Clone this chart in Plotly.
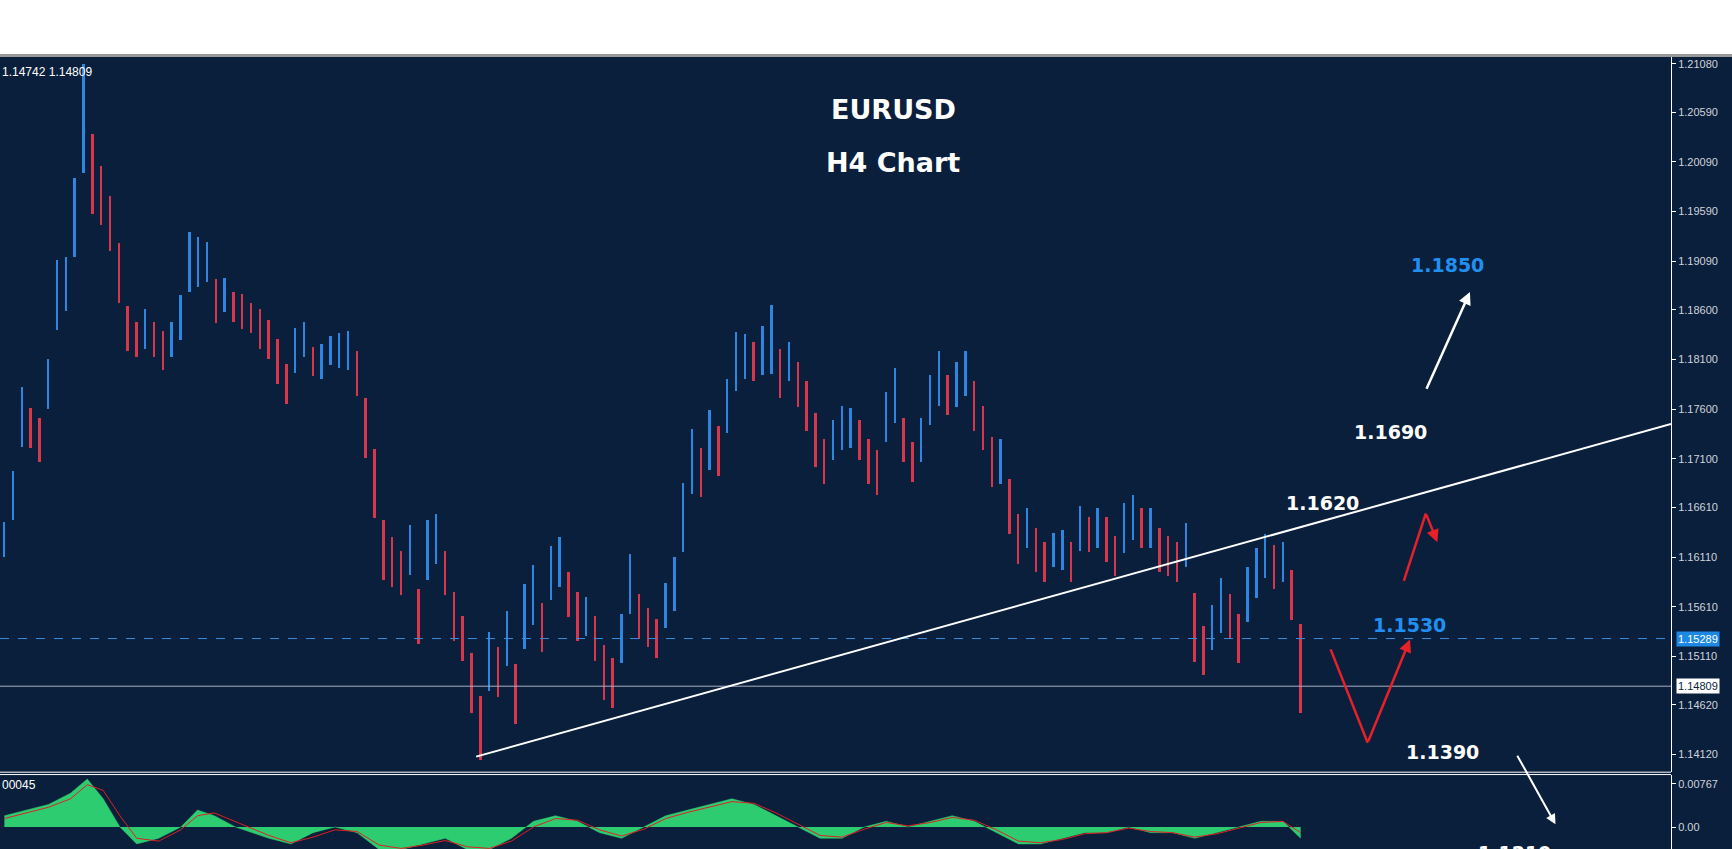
import plotly.graph_objects as go

# ---- data (price bars: mid price and high-low span per H4 bar) ----
bar_mid = [1.1629,1.1673,1.1752,1.1741,1.1729,1.1785,1.1875,1.1886,1.1953,1.2053,
           1.1997,1.1975,1.1947,1.1897,1.1841,1.1830,1.1841,1.1830,1.1819,1.1830,
           1.1852,1.1908,1.1908,1.1908,1.1869,1.1875,1.1863,1.1858,1.1852,1.1841,
           1.1830,1.1808,1.1785,1.1819,1.1830,1.1808,1.1808,1.1819,1.1819,1.1819,
           1.1796,1.1741,1.1685,1.1618,1.1606,1.1595,1.1618,1.1551,1.1618,1.1629,
           1.1595,1.1551,1.1529,1.1484,1.1439,1.1506,1.1495,1.1529,1.1473,1.1551,
           1.1573,1.1540,1.1595,1.1606,1.1573,1.1551,1.1551,1.1529,1.1495,1.1484,
           1.1529,1.1584,1.1551,1.1540,1.1529,1.1562,1.1584,1.1651,1.1707,1.1696,
           1.1729,1.1718,1.1763,1.1808,1.1813,1.1808,1.1819,1.1830,1.1796,1.1808,
           1.1785,1.1763,1.1729,1.1707,1.1729,1.1741,1.1741,1.1729,1.1707,1.1696,
           1.1752,1.1774,1.1729,1.1707,1.1729,1.1769,1.1791,1.1774,1.1785,1.1796,
           1.1763,1.1741,1.1707,1.1707,1.1662,1.1629,1.1640,1.1618,1.1606,1.1618,
           1.1618,1.1606,1.1640,1.1634,1.1640,1.1629,1.1612,1.1640,1.1651,1.1640,
           1.1640,1.1618,1.1612,1.1606,1.1623,1.1540,1.1517,1.1540,1.1562,1.1551,
           1.1529,1.1573,1.1595,1.1612,1.1601,1.1606,1.1573,1.1499]
bar_span = [0.0035,0.0050,0.0060,0.0040,0.0045,0.0050,0.0070,0.0055,0.0080,0.0110,
            0.0080,0.0060,0.0055,0.0060,0.0045,0.0035,0.0040,0.0035,0.0040,0.0035,
            0.0045,0.0060,0.0050,0.0040,0.0045,0.0035,0.0030,0.0035,0.0030,0.0040,
            0.0040,0.0045,0.0040,0.0045,0.0035,0.0030,0.0035,0.0030,0.0035,0.0040,
            0.0045,0.0060,0.0070,0.0060,0.0050,0.0045,0.0050,0.0055,0.0060,0.0050,
            0.0045,0.0050,0.0045,0.0060,0.0065,0.0060,0.0050,0.0055,0.0060,0.0065,
            0.0060,0.0050,0.0055,0.0050,0.0045,0.0050,0.0040,0.0045,0.0055,0.0050,
            0.0050,0.0060,0.0045,0.0040,0.0040,0.0045,0.0055,0.0070,0.0065,0.0050,
            0.0060,0.0050,0.0055,0.0060,0.0045,0.0040,0.0050,0.0070,0.0050,0.0040,
            0.0045,0.0050,0.0055,0.0045,0.0040,0.0045,0.0040,0.0040,0.0045,0.0045,
            0.0050,0.0055,0.0045,0.0040,0.0045,0.0050,0.0055,0.0040,0.0045,0.0045,
            0.0050,0.0045,0.0050,0.0045,0.0055,0.0050,0.0040,0.0045,0.0040,0.0035,
            0.0040,0.0040,0.0045,0.0035,0.0040,0.0045,0.0040,0.0050,0.0045,0.0040,
            0.0040,0.0045,0.0040,0.0040,0.0045,0.0070,0.0050,0.0045,0.0055,0.0045,
            0.0050,0.0055,0.0050,0.0045,0.0045,0.0040,0.0050,0.0090]

# oscillator (histogram & signal) sampled by bar index
osc_x = [0,2.5,5,7.5,9.4,11.2,13.1,15,17.5,20,21.9,23.8,26.2,30,32.5,35,37.5,40,42.5,45,
         47.5,50,52.5,55,57.5,60,62.5,65,67.5,70,72.5,75,77.5,80,82.5,85,87.5,90,92.5,95,
         97.5,100,102.5,105,107.5,110,112.5,115,117.5,120,122.5,125,127.5,130,132.5,135,
         137.5,140,142.5,145,147]
osc_hist = [0.002,0.003,0.004,0.006,0.0085,0.005,0.0,-0.003,-0.002,0.0,0.003,0.002,0.0,-0.002,
            -0.003,-0.001,0.0,-0.001,-0.004,-0.004,-0.003,-0.002,-0.004,-0.004,-0.002,0.001,
            0.002,0.001,-0.001,-0.002,0.0,0.002,0.003,0.004,0.005,0.004,0.002,0.0,-0.002,-0.002,
            0.0,0.001,0.0,0.001,0.002,0.001,-0.001,-0.003,-0.003,-0.002,-0.001,-0.001,0.0,
            -0.001,-0.001,-0.002,-0.001,0.0,0.001,0.001,-0.002]
osc_signal = [0.0015,0.0025,0.0035,0.005,0.0075,0.0065,0.002,-0.002,-0.0025,-0.0005,0.002,0.0025,
              0.001,-0.0015,-0.0028,-0.0018,-0.0005,-0.0008,-0.0032,-0.0038,-0.0032,-0.0024,
              -0.0035,-0.0038,-0.0025,0.0,0.0015,0.0012,-0.0005,-0.0016,-0.0004,0.0015,0.0026,
              0.0036,0.0045,0.0042,0.0025,0.0005,-0.0015,-0.0018,-0.0004,0.0008,0.0002,0.0008,
              0.0017,0.0012,-0.0005,-0.0025,-0.0028,-0.0022,-0.0012,-0.001,-0.0002,-0.0008,
              -0.001,-0.0018,-0.0012,-0.0002,0.0008,0.001,-0.001]

price_ticks = [1.21080,1.20590,1.20090,1.19590,1.19090,1.18600,1.18100,1.17600,1.17100,
               1.16610,1.16110,1.15610,1.15110,1.14620,1.14120]
ask_level = 1.15289
bid_level = 1.14809
levels = {"1.1850": 1.1905, "1.1690": 1.1737, "1.1620": 1.1665, "1.1530": 1.1543,
          "1.1390": 1.1415}
level_x = {"1.1850": 163.6, "1.1690": 157.2, "1.1620": 149.5, "1.1530": 159.4, "1.1390": 163.1}
level_col = {"1.1850": "#2090f0", "1.1690": "white", "1.1620": "white", "1.1530": "#2090f0",
             "1.1390": "white"}

BG = "#0a1f3b"
n = len(bar_mid)
xs = list(range(n))
lows = [m - s / 2 for m, s in zip(bar_mid, bar_span)]
cols = ["#2f86e0" if i == 0 or bar_mid[i] >= bar_mid[i - 1] else "#d9364c" for i in range(n)]

fig = go.Figure()
fig.add_trace(go.Bar(x=xs, y=bar_span, base=lows, width=0.22, marker=dict(color=cols, line_width=0),
                     yaxis="y", showlegend=False))
fig.add_trace(go.Scatter(x=osc_x, y=osc_hist, fill="tozeroy", mode="lines", line=dict(color="#2ecc71", width=0.5),
                         fillcolor="#2ecc71", yaxis="y2", showlegend=False))
fig.add_trace(go.Scatter(x=osc_x, y=osc_signal, mode="lines", line=dict(color="#e02020", width=1),
                         yaxis="y2", showlegend=False))

XMAX = 189
TF = dict(size=11, color="#d0d4dc", family="Liberation Sans")
fig.update_layout(
    width=1732, height=849, paper_bgcolor=BG, plot_bgcolor=BG,
    margin=dict(l=0, r=61, t=57, b=0), bargap=0,
    font=dict(family="DejaVu Sans", color="#d0d4dc", size=12),
    xaxis=dict(range=[-0.5, XMAX], showgrid=False, showticklabels=False, zeroline=False, fixedrange=True),
    yaxis=dict(domain=[0.097, 1], range=[1.13943, 1.21147], side="right", tickvals=price_ticks,
               ticktext=[f"{v:.5f}" for v in price_ticks], showgrid=False, zeroline=False,
               ticks="outside", ticklen=4, tickcolor="white", showline=True, linecolor="white",
               tickfont=TF, automargin=False),
    yaxis2=dict(domain=[0, 0.094], range=[-0.0039, 0.0093], side="right", tickvals=[0.00767, 0],
                ticktext=["0.00767", "0.00"], showgrid=False, zeroline=False, ticks="outside",
                ticklen=4, tickcolor="white", showline=True, linecolor="white",
                tickfont=TF, automargin=False),
)

shapes = [
    dict(type="rect", xref="paper", yref="paper", x0=-0.01, x1=1.1, y0=1.0, y1=1.08, fillcolor="white", line_width=0),
    dict(type="line", xref="paper", yref="paper", x0=0, x1=1.04, y0=1.002, y1=1.002, line=dict(color="#999", width=3)),
    dict(type="line", xref="paper", yref="paper", x0=0, x1=1, y0=0.097, y1=0.097, line=dict(color="white", width=1)),
    dict(type="line", xref="paper", yref="paper", x0=0, x1=1, y0=0.094, y1=0.094, line=dict(color="white", width=1)),
    dict(type="line", xref="x", yref="y", x0=-0.5, x1=XMAX, y0=ask_level, y1=ask_level, line=dict(color="#3a8fe0", width=1, dash="dash")),
    dict(type="line", xref="x", yref="y", x0=-0.5, x1=XMAX, y0=bid_level, y1=bid_level, line=dict(color="#a8b0c0", width=1)),
    dict(type="line", xref="x", yref="y", x0=53.5, y0=1.1410, x1=XMAX, y1=1.1745, line=dict(color="white", width=2)),
    dict(type="line", xref="x", yref="y", x0=150.4, y0=1.1518, x1=154.6, y1=1.1424, line=dict(color="#e8202a", width=2.5)),
    dict(type="line", xref="x", yref="y", x0=158.7, y0=1.1587, x1=161.2, y1=1.1655, line=dict(color="#e8202a", width=2.5)),
]
fig.update_layout(shapes=shapes)

A = []
A.append(dict(text="<b>EURUSD</b>", xref="x", yref="y", x=100.8, y=1.2062, showarrow=False,
              font=dict(size=27, color="white", family="DejaVu Sans")))
A.append(dict(text="<b>H4 Chart</b>", xref="x", yref="y", x=100.8, y=1.2008, showarrow=False,
              font=dict(size=27, color="white", family="DejaVu Sans")))
for k, v in levels.items():
    A.append(dict(text=f"<b>{k}</b>", xref="x", yref="y", x=level_x[k], y=v, showarrow=False,
                  font=dict(size=19, color=level_col[k], family="DejaVu Sans")))
A.append(dict(text="<b>1.1210</b>", xref="x", yref="y2", x=171.3, y=-0.0023, yanchor="top", showarrow=False,
              font=dict(size=19, color="white", family="DejaVu Sans")))
# arrows
A.append(dict(x=166.2, y=1.1878, ax=161.2, ay=1.1779, xref="x", yref="y", axref="x", ayref="y",
              showarrow=True, arrowhead=2, arrowwidth=2.5, arrowcolor="white", text=""))
A.append(dict(x=159.4, y=1.1528, ax=154.6, ay=1.1424, xref="x", yref="y", axref="x", ayref="y",
              showarrow=True, arrowhead=2, arrowwidth=2.5, arrowcolor="#e8202a", text=""))
A.append(dict(x=162.5, y=1.1626, ax=161.2, ay=1.1655, xref="x", yref="y", axref="x", ayref="y",
              showarrow=True, arrowhead=2, arrowwidth=2.5, arrowcolor="#e8202a", text=""))
A.append(dict(x=175.9, y=0.0005, ax=-39, ay=-70, xref="x", yref="y2",
              showarrow=True, arrowhead=2, arrowwidth=2, arrowcolor="white", text=""))
A.append(dict(text="1.14742 1.14809", xref="paper", yref="paper", x=0, y=0.993, xanchor="left", yanchor="top",
              showarrow=False, font=dict(size=12, color="white", family="Liberation Sans")))
A.append(dict(text="00045", xref="paper", yref="paper", x=0, y=0.092, xanchor="left", yanchor="top",
              showarrow=False, font=dict(size=12, color="white", family="Liberation Sans")))
A.append(dict(text="1.15289", xref="paper", yref="y", x=1.003, y=ask_level, xanchor="left", showarrow=False,
              bgcolor="#1e88e5", font=dict(size=11, color="white", family="Liberation Sans"), borderpad=1))
A.append(dict(text="1.14809", xref="paper", yref="y", x=1.003, y=bid_level, xanchor="left", showarrow=False,
              bgcolor="white", font=dict(size=11, color="#0a1f3b", family="Liberation Sans"), borderpad=1))
fig.update_layout(annotations=A)
fig.write_html("out.html", config={"displayModeBar": False},
               post_script="document.body.style.margin='0';document.body.style.overflow='hidden';")
